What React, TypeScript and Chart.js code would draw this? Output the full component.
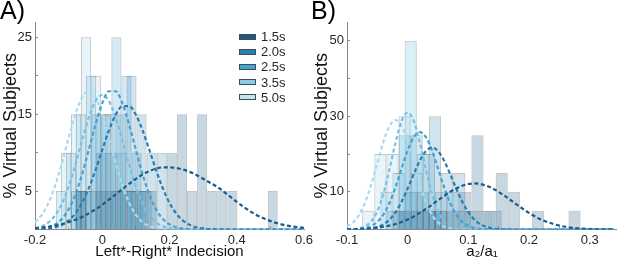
import React, { useEffect, useRef } from "react";
import { Chart, registerables } from "chart.js";

Chart.register(...registerables);

const FONT = '"Liberation Sans", Arial, Helvetica, sans-serif';

// Series
const SERIES = ["1.5s", "2.0s", "2.5s", "3.5s", "5.0s"];
const BOX_COLORS = ["#1b5a86", "#2682b6", "#3aa6d9", "#86cde9", "#bfe4f4"];
const LINE_COLORS = ["#1d5c88", "#2a7db0", "#47a2d3", "#76c2e3", "#a9dbf0"];
const BAR_COLORS = [
  "rgba(27,90,134,0.24)",
  "rgba(38,130,182,0.22)",
  "rgba(58,166,217,0.22)",
  "rgba(134,205,233,0.3)",
  "rgba(191,228,244,0.38)",
];

// ---------- Panel A : Left*-Right* Indecision ----------
// histogram bin centres (bin width 0.03) and % of virtual subjects
const A_H15_X = [-0.063, -0.003, 0.027, 0.057, 0.087, 0.117, 0.147, 0.207, 0.237, 0.267, 0.297, 0.327, 0.357, 0.387, 0.507];
const A_H15_Y = [5, 5, 5, 5, 5, 5, 5, 10, 15, 5, 15, 5, 5, 5, 5];
const A_H20_X = [-0.063, -0.033, -0.003, 0.027, 0.057, 0.087, 0.117, 0.147, 0.177];
const A_H20_Y = [5, 5, 10, 10, 15, 20, 15, 10, 10];
const A_H25_X = [-0.078, -0.048, -0.018, 0.012, 0.042, 0.072, 0.102, 0.132];
const A_H25_Y = [5, 5, 15, 15, 25, 20, 10, 5];
const A_H35_X = [-0.123, -0.093, -0.063, -0.033, -0.003, 0.027, 0.057, 0.087, 0.117];
const A_H35_Y = [5, 10, 15, 20, 15, 15, 10, 5, 5];
const A_H50_X = [-0.108, -0.078, -0.048, -0.018, 0.012, 0.042, 0.072, 0.102];
const A_H50_Y = [10, 15, 25, 20, 15, 5, 5, 5];

// fitted curves
const A_X = [-0.2, -0.18, -0.16, -0.14, -0.12, -0.1, -0.08, -0.06, -0.04, -0.02, 0, 0.02, 0.04, 0.06, 0.08, 0.1, 0.12, 0.14, 0.16, 0.18, 0.2, 0.22, 0.24, 0.26, 0.28, 0.3, 0.35, 0.4, 0.45, 0.5, 0.55, 0.6];
const A_C15 = [0.17, 0.25, 0.36, 0.5, 0.7, 0.95, 1.26, 1.64, 2.1, 2.63, 3.23, 3.88, 4.56, 5.26, 5.95, 6.59, 7.15, 7.6, 7.92, 8.08, 8.08, 8.0, 7.8, 7.5, 7.1, 6.6, 5.3, 3.6, 2.1, 1.1, 0.5, 0.2];
const A_C20 = [0.02, 0.05, 0.13, 0.29, 0.6, 1.16, 2.08, 3.46, 5.37, 7.73, 10.36, 12.89, 14.92, 16.05, 16.05, 14.92, 12.89, 10.36, 7.73, 5.37, 3.46, 2.08, 1.16, 0.6, 0.29, 0.13, 0.02, 0, 0, 0, 0, 0];
const A_C25 = [0.04, 0.12, 0.29, 0.66, 1.38, 2.62, 4.54, 7.18, 10.37, 13.66, 16.41, 17.99, 17.99, 16.41, 13.66, 10.37, 7.18, 4.54, 2.62, 1.38, 0.66, 0.29, 0.12, 0.04, 0.01, 0, 0, 0, 0, 0, 0, 0];
const A_C35 = [0.18, 0.43, 0.92, 1.85, 3.35, 5.55, 8.39, 11.58, 14.56, 16.71, 17.5, 16.71, 14.56, 11.58, 8.39, 5.55, 3.35, 1.85, 0.92, 0.43, 0.18, 0.07, 0.02, 0, 0, 0, 0, 0, 0, 0, 0, 0];
const A_C50 = [0.95, 1.9, 3.45, 5.71, 8.63, 11.91, 14.98, 17.19, 18, 17.19, 14.98, 11.91, 8.63, 5.71, 3.45, 1.9, 0.95, 0.44, 0.18, 0.07, 0.02, 0, 0, 0, 0, 0, 0, 0, 0, 0, 0, 0];

const A_Y_LABELS = [5, 15, 25];

// ---------- Panel B : a2/a1 ----------
// histogram bin centres (bin width 0.02)
const B_H15_X = [-0.005, 0.015, 0.035, 0.055, 0.075, 0.095, 0.115, 0.135, 0.155, 0.175, 0.215, 0.275];
const B_H15_Y = [5, 5, 5, 5, 5, 10, 25, 5, 15, 10, 5, 5];
const B_H20_X = [-0.015, 0.005, 0.025, 0.045, 0.065, 0.085, 0.105, 0.125, 0.145];
const B_H20_Y = [5, 10, 10, 30, 15, 15, 5, 5, 5];
const B_H25_X = [-0.025, -0.005, 0.015, 0.035, 0.055, 0.075, 0.095];
const B_H25_Y = [5, 25, 25, 20, 10, 10, 5];
const B_H35_X = [-0.035, -0.015, 0.005, 0.025, 0.045];
const B_H35_Y = [10, 15, 50, 20, 5];
const B_H50_X = [-0.065, -0.045, -0.025, -0.005, 0.015, 0.035, 0.055];
const B_H50_Y = [5, 20, 20, 30, 15, 5, 5];

const B_X = [-0.1, -0.09, -0.08, -0.07, -0.06, -0.05, -0.04, -0.03, -0.02, -0.01, 0, 0.01, 0.02, 0.03, 0.04, 0.05, 0.06, 0.07, 0.08, 0.09, 0.1, 0.11, 0.12, 0.14, 0.16, 0.18, 0.2, 0.22, 0.24, 0.26, 0.28, 0.3, 0.32, 0.34];
const B_C15 = [0.05, 0.08, 0.13, 0.21, 0.32, 0.48, 0.72, 1.03, 1.45, 1.99, 2.66, 3.46, 4.4, 5.45, 6.58, 7.75, 8.9, 9.97, 10.89, 11.6, 12.05, 12.2, 12.05, 10.89, 8.9, 6.58, 4.4, 2.66, 1.45, 0.72, 0.32, 0.13, 0.05, 0.02];
const B_C20 = [0, 0.01, 0.04, 0.12, 0.29, 0.65, 1.36, 2.61, 4.57, 7.36, 10.86, 14.7, 18.25, 20.78, 21.7, 20.78, 18.25, 14.7, 10.86, 7.36, 4.57, 2.61, 1.36, 0.29, 0.04, 0, 0, 0, 0, 0, 0, 0, 0, 0];
const B_C25 = [0.01, 0.05, 0.14, 0.38, 0.92, 2.02, 3.97, 7.03, 11.22, 16.15, 20.95, 24.49, 25.8, 24.49, 20.95, 16.15, 11.22, 7.03, 3.97, 2.02, 0.92, 0.38, 0.14, 0.01, 0, 0, 0, 0, 0, 0, 0, 0, 0, 0];
const B_C35 = [0.02, 0.08, 0.27, 0.83, 2.16, 4.88, 9.49, 15.93, 23.06, 28.79, 31, 28.79, 23.06, 15.93, 9.49, 4.88, 2.16, 0.83, 0.27, 0.08, 0.02, 0, 0, 0, 0, 0, 0, 0, 0, 0, 0, 0, 0, 0];
const B_C50 = [0.83, 1.91, 3.92, 7.23, 11.92, 17.59, 23.22, 27.43, 29, 27.43, 23.22, 17.59, 11.92, 7.23, 3.92, 1.91, 0.83, 0.32, 0.11, 0.03, 0, 0, 0, 0, 0, 0, 0, 0, 0, 0, 0, 0, 0, 0];

const B_Y_LABELS = [10, 30, 50];

const AXIS_GRAY = "#8a8a8a";
const TEXT = "#262626";

function pts(xs: number[], ys: number[]) {
  return xs.map((x, i) => ({ x, y: ys[i] }));
}

function buildDatasets(hx: number[][], hy: number[][], cx: number[], cy: number[][]) {
  const bars = SERIES.map((s, i) => ({
    type: "bar" as const,
    label: s,
    data: pts(hx[i], hy[i]),
    backgroundColor: BAR_COLORS[i],
    borderColor: "rgba(70,70,70,0.32)",
    borderWidth: 1,
    grouped: false,
    barPercentage: 2,
    categoryPercentage: 1,
    order: 2,
  }));
  const lines = SERIES.map((s, i) => ({
    type: "line" as const,
    label: s + " fit",
    data: pts(cx, cy[i]),
    borderColor: LINE_COLORS[i],
    borderWidth: 2.2,
    borderDash: [4, 2.6],
    pointRadius: 0,
    fill: false,
    cubicInterpolationMode: "monotone" as const,
    order: 1,
  }));
  return [...lines, ...bars];
}

function makeOptions(p: {
  title: string;
  xTitle: string;
  xMin: number;
  xMax: number;
  xStep: number;
  yMax: number;
  yStep: number;
  yLabels: number[];
  yWidth: number;
  padRight: number;
}) {
  return {
    responsive: false,
    animation: false as const,
    layout: { padding: { top: 2, right: p.padRight, bottom: 0, left: 0 } },
    plugins: {
      legend: { display: false },
      tooltip: { enabled: false },
      title: {
        display: true,
        text: p.title,
        align: "start" as const,
        color: "#000",
        padding: 0,
        font: { family: FONT, size: 25, weight: "normal" as const, lineHeight: 0.8 },
      },
    },
    scales: {
      x: {
        type: "linear" as const,
        min: p.xMin,
        max: p.xMax,
        offset: false,
        ticks: {
          stepSize: p.xStep,
          includeBounds: false,
          autoSkip: false,
          maxRotation: 0,
          padding: 6,
          color: TEXT,
          font: { family: FONT, size: 13 },
        },
        grid: { display: true, drawOnChartArea: false, drawTicks: true, tickLength: -3, color: AXIS_GRAY },
        border: { display: true, color: AXIS_GRAY, width: 1 },
        title: {
          display: true,
          text: p.xTitle,
          color: "#111",
          font: { family: FONT, size: 15 },
          padding: { top: 0, bottom: 1 },
        },
        afterFit: (s: any) => {
          s.height = 32.5;
        },
      },
      y: {
        type: "linear" as const,
        min: 0,
        max: p.yMax,
        ticks: {
          stepSize: p.yStep,
          includeBounds: false,
          padding: 6,
          color: TEXT,
          font: { family: FONT, size: 13 },
          callback: (v: any) => (p.yLabels.includes(Number(v)) ? String(v) : ""),
        },
        grid: { display: true, drawOnChartArea: false, drawTicks: true, tickLength: -3, color: AXIS_GRAY },
        border: { display: true, color: AXIS_GRAY, width: 1 },
        title: {
          display: true,
          text: "% Virtual Subjects",
          color: "#111",
          font: { family: FONT, size: 18 },
          padding: { top: 0, bottom: 0 },
        },
        afterFit: (s: any) => {
          s.width = p.yWidth;
        },
      },
    },
  };
}

function Panel(props: { left: number; width: number; config: any }) {
  const ref = useRef<HTMLCanvasElement | null>(null);
  useEffect(() => {
    if (!ref.current) return;
    const chart = new Chart(ref.current, props.config);
    return () => chart.destroy();
  }, []);
  return (
    <canvas
      ref={ref}
      width={props.width}
      height={262}
      style={{ position: "absolute", left: props.left, top: 0, width: props.width, height: 262 }}
    />
  );
}

export default function App() {
  const configA = {
    type: "bar",
    data: {
      datasets: buildDatasets(
        [A_H15_X, A_H20_X, A_H25_X, A_H35_X, A_H50_X],
        [A_H15_Y, A_H20_Y, A_H25_Y, A_H35_Y, A_H50_Y],
        A_X,
        [A_C15, A_C20, A_C25, A_C35, A_C50]
      ),
    },
    options: makeOptions({
      title: "A)",
      xTitle: "Left*-Right* Indecision",
      xMin: -0.2,
      xMax: 0.6,
      xStep: 0.2,
      yMax: 27,
      yStep: 5,
      yLabels: A_Y_LABELS,
      yWidth: 35,
      padRight: 26,
    }),
  };
  const configB = {
    type: "bar",
    data: {
      datasets: buildDatasets(
        [B_H15_X, B_H20_X, B_H25_X, B_H35_X, B_H50_X],
        [B_H15_Y, B_H20_Y, B_H25_Y, B_H35_Y, B_H50_Y],
        B_X,
        [B_C15, B_C20, B_C25, B_C35, B_C50]
      ),
    },
    options: makeOptions({
      title: "B)",
      xTitle: "a\u2082/a\u2081",
      xMin: -0.1,
      xMax: 0.345,
      xStep: 0.1,
      yMax: 55,
      yStep: 10,
      yLabels: B_Y_LABELS,
      yWidth: 36,
      padRight: 0,
    }),
  };

  return (
    <div style={{ position: "fixed", left: 0, top: 0, width: 617, height: 262, background: "#fff", overflow: "hidden" }}>
      <Panel left={0} width={330} config={configA} />
      <Panel left={311} width={306} config={configB} />
      <div style={{ position: "absolute", left: 239, top: 29, fontFamily: FONT, fontSize: 13, color: TEXT }}>
        {SERIES.map((s, i) => (
          <div key={s} style={{ display: "flex", alignItems: "center", height: 15.2 }}>
            <span
              style={{
                display: "inline-block",
                width: 17,
                height: 6,
                boxSizing: "border-box",
                background: BOX_COLORS[i],
                border: "1px solid #4a4a4a",
                marginRight: 5,
              }}
            />
            <span>{s}</span>
          </div>
        ))}
      </div>
    </div>
  );
}
